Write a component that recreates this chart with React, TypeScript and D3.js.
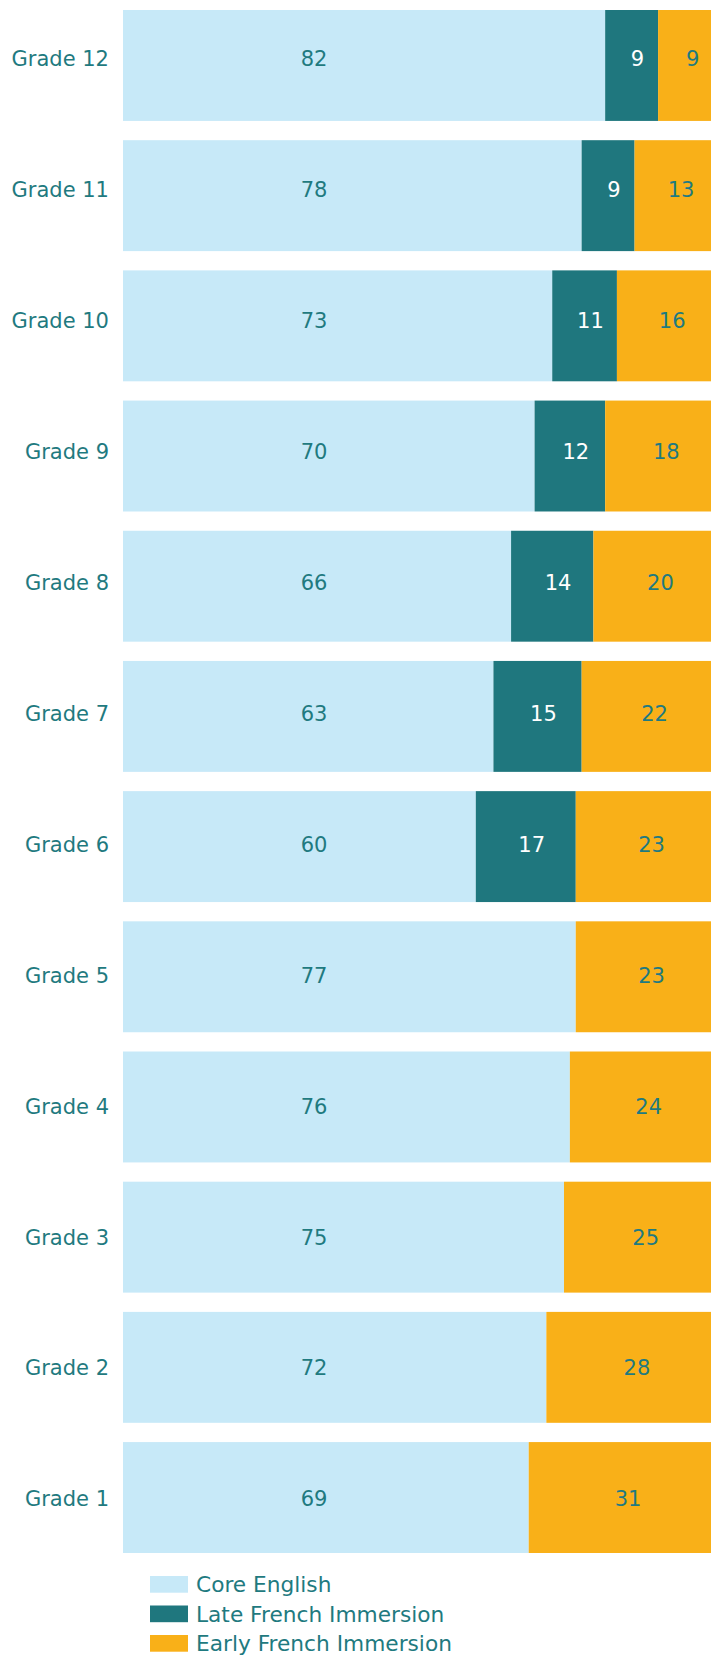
import React, { useEffect, useRef } from "react";
import * as d3 from "d3";

const grades = [
  "Grade 12",
  "Grade 11",
  "Grade 10",
  "Grade 9",
  "Grade 8",
  "Grade 7",
  "Grade 6",
  "Grade 5",
  "Grade 4",
  "Grade 3",
  "Grade 2",
  "Grade 1",
];
const coreEnglish = [82, 78, 73, 70, 66, 63, 60, 77, 76, 75, 72, 69];
const lateImmersion = [9, 9, 11, 12, 14, 15, 17, 0, 0, 0, 0, 0];
const earlyImmersion = [9, 13, 16, 18, 20, 22, 23, 23, 24, 25, 28, 31];
const seriesNames = ["Core English", "Late French Immersion", "Early French Immersion"];

const App = () => {
  const chart = useRef<SVGSVGElement>(null);

  useEffect(() => {
    const width = 711;
    const height = 1655;
    const textColor = "#1f7a80";
    const colors = ["#c7e9f8", "#1f777e", "#f9b018"];
    const labelColors = [textColor, "#ffffff", textColor];
    // label nudges in x units, core labels share one spot
    const labelShift = [0, 1.0, 1.4];
    const font = "'DejaVu Sans', Verdana, sans-serif";

    const svg = d3.select(chart.current);
    svg.selectAll("*").remove();
    svg.attr("width", width).attr("height", height);

    const rows = grades.map((g, i) => ({
      grade: g,
      values: [coreEnglish[i], lateImmersion[i], earlyImmersion[i]],
    }));

    const x = d3.scaleLinear().domain([0, 100]).range([123, 711]);
    const y = d3
      .scaleBand()
      .domain(grades)
      .range([10, 1553])
      .paddingInner(0.148)
      .paddingOuter(0);
    // text sits a touch off the bar centres in the original
    const yText = d3.scalePoint().domain(grades).range([59, 1499]);

    const g = svg.append("g");

    rows.forEach((row) => {
      let start = 0;
      row.values.forEach((v, k) => {
        if (v > 0) {
          g.append("rect")
            .attr("x", x(start))
            .attr("y", y(row.grade)!)
            .attr("width", x(start + v) - x(start))
            .attr("height", y.bandwidth())
            .attr("fill", colors[k]);

          const pos = k === 0 ? 32.5 : start + v / 2 + labelShift[k];
          g.append("text")
            .attr("x", x(pos))
            .attr("y", yText(row.grade)!)
            .attr("dy", "0.35em")
            .attr("text-anchor", "middle")
            .attr("fill", labelColors[k])
            .style("font-family", font)
            .style("font-size", "21px")
            .text(v);
        }
        start += v;
      });

      g.append("text")
        .attr("x", 109)
        .attr("y", yText(row.grade)!)
        .attr("dy", "0.35em")
        .attr("text-anchor", "end")
        .attr("fill", textColor)
        .style("font-family", font)
        .style("font-size", "21px")
        .text(row.grade);
    });

    // legend
    const legend = svg.append("g").attr("transform", "translate(150,1576)");
    seriesNames.forEach((name, i) => {
      const item = legend.append("g").attr("transform", `translate(0,${i * 29.5})`);
      item
        .append("rect")
        .attr("width", 38)
        .attr("height", 16.7)
        .attr("fill", colors[i]);
      item
        .append("text")
        .attr("x", 46)
        .attr("y", 8.4)
        .attr("dy", "0.35em")
        .attr("fill", textColor)
        .style("font-family", font)
        .style("font-size", "21.7px")
        .text(name);
    });
  });

  return (
    <div style={{ position: "absolute", left: 0, top: 0 }}>
      <svg ref={chart} style={{ display: "block" }}></svg>
    </div>
  );
};

export default App;
